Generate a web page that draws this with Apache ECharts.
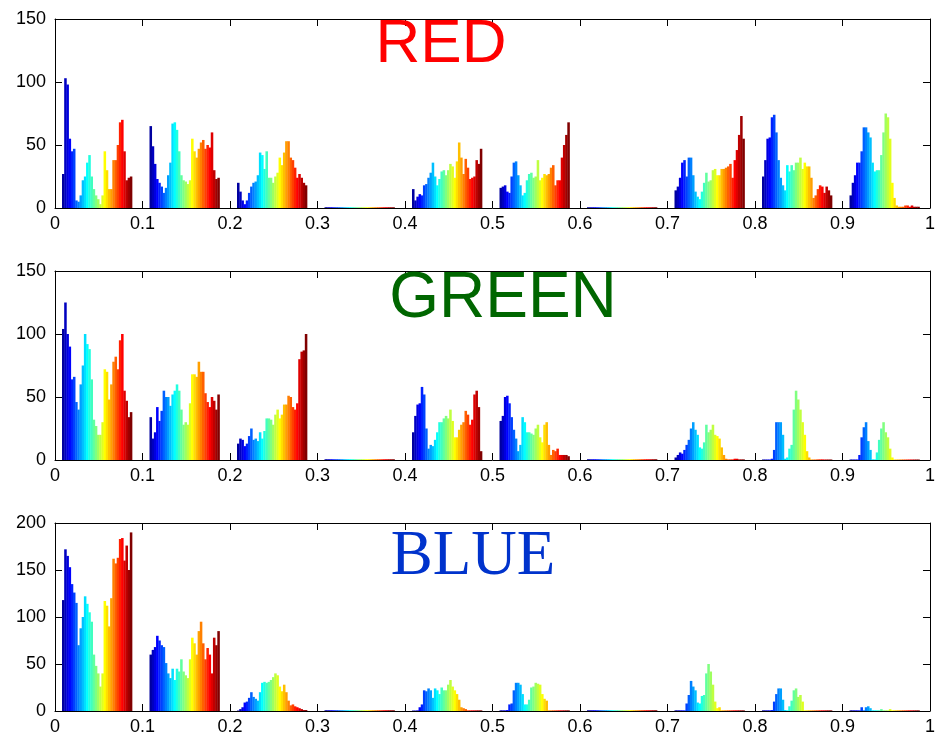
<!DOCTYPE html>
<html>
<head>
<meta charset="utf-8">
<script src="https://cdn.jsdelivr.net/npm/echarts@6/dist/echarts.min.js"></script>
<style>html,body{margin:0;padding:0;background:#fff}#c{width:938px;height:736px}</style>
</head>
<body>
<div id="c"></div>
<script>
// Histogram bin counts: 10 groups of 32 bins per channel (group g covers x ≈ g*0.1+0.008 .. g*0.1+0.088)
const redCounts = [
  [27,103,98,55,45,47,6,5,10,22,25,36,42,25,15,10,7,3,10,45,30,15,15,38,38,50,68,70,45,22,24,25],
  [65,49,35,23,20,17,12,16,26,36,67,68,62,45,26,22,21,19,22,55,45,40,47,52,54,47,50,48,60,30,23,24],
  [20,13,6,3,6,12,17,20,21,26,44,42,31,45,24,24,20,25,28,40,34,44,53,53,40,38,32,24,27,24,20,18],
  [0.6,0.6,0.6,0.6,0.6,0.6,0.6,0.6,0.6,0.6,0.6,0.6,0.6,0.6,0.6,0.6,0.6,0.6,0.6,0.6,0.6,0.6,0.6,0.6,0.6,0.6,0.6,0.6,0.6,0.6,0.6,0.6],
  [15,6,9,11,10,18,19,24,28,36,25,18,23,29,30,26,30,35,33,24,37,52,40,27,39,32,23,24,25,38,35,47],
  [16,17,18,13,12,25,36,37,26,18,10,12,22,27,28,24,25,38,22,24,27,26,27,32,34,18,22,22,40,50,58,68],
  [0.6,0.6,0.6,0.6,0.6,0.6,0.6,0.6,0.6,0.6,0.6,0.6,0.6,0.6,0.6,0.6,0.6,0.6,0.6,0.6,0.6,0.6,0.6,0.6,0.6,0.6,0.6,0.6,0.6,0.6,0.6,0.6],
  [14,17,24,36,38,25,40,40,26,13,9,7,13,20,28,21,22,30,31,26,26,31,31,32,33,35,24,38,46,58,73,55],
  [25,38,55,56,72,74,60,38,24,18,14,34,29,34,30,36,36,40,31,36,33,33,24,8,10,15,18,17,12,17,14,10],
  [10,20,26,36,36,45,64,64,60,56,36,29,30,30,42,60,75,72,55,20,8,2,1,1,1,2,2,1,2,1,1,1]
];
const greenCounts = [
  [104,125,100,90,64,66,46,40,60,75,100,92,88,64,32,27,20,20,30,72,70,48,60,78,82,72,95,100,55,47,34,38],
  [34,17,22,42,31,39,55,50,50,43,52,55,60,55,40,28,30,28,45,68,68,66,78,70,70,53,46,42,50,47,40,52],
  [13,17,16,11,13,19,25,16,17,15,22,17,23,33,33,32,28,36,40,33,36,44,44,51,50,42,40,45,80,86,87,100],
  [0.6,0.6,0.6,0.6,0.6,0.6,0.6,0.6,0.6,0.6,0.6,0.6,0.6,0.6,0.6,0.6,0.6,0.6,0.6,0.6,0.6,0.6,0.6,0.6,0.6,0.6,0.6,0.6,0.6,0.6,0.6,0.6],
  [22,35,44,45,58,52,25,9,12,11,16,22,30,30,33,35,33,40,31,18,18,24,28,30,39,36,28,32,52,55,42,7],
  [31,35,50,51,45,34,24,17,7,12,34,30,22,22,21,20,25,28,18,14,28,30,12,4,8,7,9,4,4,4,4,3],
  [0.6,0.6,0.6,0.6,0.6,0.6,0.6,0.6,0.6,0.6,0.6,0.6,0.6,0.6,0.6,0.6,0.6,0.6,0.6,0.6,0.6,0.6,0.6,0.6,0.6,0.6,0.6,0.6,0.6,0.6,0.6,0.6],
  [2,4,6,5,8,12,16,25,30,24,20,10,9,14,28,22,24,28,20,19,17,10,4,1,0.5,0.5,0.5,1,1,0.5,0.5,0.5],
  [0.4,0.4,0.4,0.4,1,8,30,30,30,20,1,2,9,12,40,55,48,40,30,20,7,2,0.4,0.4,0.4,0.5,0.5,0.5,0.4,0.4,0.4,0.4],
  [0.4,0.4,0.4,0.4,4,18,26,30,15,8,0.5,0.5,6,16,25,30,22,18,9,2,0.4,0.4,0.4,0.4,0.4,0.4,0.4,0.4,0.4,0.4,0.4,0.4]
];
const blueCounts = [
  [118,172,165,153,135,126,115,70,88,100,122,114,105,95,60,48,40,26,40,117,112,90,120,162,157,163,183,184,160,176,150,190],
  [60,65,68,80,75,70,68,51,40,35,45,33,45,42,55,42,38,35,55,78,72,60,85,95,72,55,67,60,40,78,70,85],
  [0.5,2,4,9,10,14,20,15,13,11,20,30,31,30,31,33,36,40,38,26,21,28,20,11,6,7,5,4,3,2,1,1],
  [0.8,0.8,0.8,0.8,0.8,0.8,0.8,0.8,0.8,0.8,0.8,0.8,0.8,0.8,0.8,0.8,0.8,0.8,0.8,0.8,0.8,0.8,0.8,0.8,0.8,0.8,0.8,0.8,0.8,0.8,0.8,0.8],
  [0.5,0.5,0.7,4,7,22,21,24,22,14,24,22,18,25,22,22,28,33,26,22,18,12,4,3,2,0.7,0.7,0.7,0.7,0.7,0.7,0.7],
  [0.7,0.7,0.7,1,7,8,22,30,30,28,18,7,7,12,25,26,30,29,28,18,13,11,0.7,0.7,0.7,0.7,0.7,0.7,0.7,0.7,0.7,0.7],
  [0.8,0.8,0.8,0.8,0.8,0.8,0.8,0.8,0.8,0.8,0.8,0.8,0.8,0.8,0.8,0.8,0.8,0.8,0.8,0.8,0.8,0.8,0.8,0.8,0.8,0.8,0.8,0.8,0.8,0.8,0.8,0.8],
  [0.7,0.7,0.7,0.7,0.7,8,17,32,26,22,9,8,16,17,40,50,42,28,10,3,4,0.7,0.7,0.7,0.7,0.7,0.7,0.7,0.7,0.7,0.7,0.7],
  [0.7,0.7,0.7,0.7,1,10,18,24,24,12,1,0.7,5,11,22,24,15,17,10,0.7,0.7,0.7,0.7,0.7,0.7,0.7,0.7,0.7,0.7,0.7,0.7,0.7],
  [0.7,0.7,0.7,0.7,0.7,4,0.7,4,5,3,0.7,0.7,0.7,0.7,2,0.7,0.7,0.7,2,0.7,0.7,0.7,0.7,0.7,0.7,0.7,0.7,0.7,0.7,0.7,0.7,0.7]
];
const xTicks = [0,0.1,0.2,0.3,0.4,0.5,0.6,0.7,0.8,0.9,1];
const yMaxes = [150, 150, 200];
const titles = ['RED', 'GREEN', 'BLUE'];

// MATLAB jet(32) colormap, one colour per bin within a group
const jet32 = ['#00009F','#0000BF','#0000DF','#0000FF','#0020FF','#0040FF','#0060FF','#0080FF',
  '#009FFF','#00BFFF','#00DFFF','#00FFFF','#20FFDF','#40FFBF','#60FF9F','#80FF80',
  '#9FFF60','#BFFF40','#DFFF20','#FFFF00','#FFDF00','#FFBF00','#FF9F00','#FF8000',
  '#FF6000','#FF4000','#FF2000','#FF0000','#DF0000','#BF0000','#9F0000','#800000'];

const BIN_W = 0.0025, GROUP_OFF = 0.008;
function buildData(groups) {
  const out = [];
  groups.forEach((vals, g) => vals.forEach((v, k) => {
    out.push([g * 0.1 + GROUP_OFF + (k + 0.5) * BIN_W, v, k]);
  }));
  return out;
}

function renderItem(params, api) {
  const x = api.value(0), y = api.value(1), ci = api.value(2);
  const p0 = api.coord([x - BIN_W / 2, y]);
  const p1 = api.coord([x + BIN_W / 2, 0]);
  return {
    type: 'rect',
    shape: { x: p0[0], y: p0[1], width: p1[0] - p0[0] + 0.35, height: p1[1] - p0[1] },
    style: { fill: jet32[ci] }
  };
}

const tops = [19, 271, 523];
const grids = tops.map(t => ({ left: 55, top: t, width: 880, height: 189 }));
const labelFont = { color: '#000', fontSize: 18, fontFamily: 'Liberation Sans, Arial, sans-serif' };
const xAxes = [], yAxes = [], series = [];
[redCounts, greenCounts, blueCounts].forEach((counts, i) => {
  xAxes.push({
    type: 'value', gridIndex: i, min: 0, max: 1, interval: 0.1, position: 'bottom',
    axisLine: { show: true, onZero: false, lineStyle: { color: '#000', width: 1 } },
    axisTick: { show: true, inside: true, length: 7, lineStyle: { color: '#000' } },
    axisLabel: Object.assign({ margin: 7 }, labelFont),
    splitLine: { show: false }
  });
  xAxes.push({
    type: 'value', gridIndex: i, min: 0, max: 1, interval: 0.1, position: 'top',
    axisLine: { show: true, onZero: false, lineStyle: { color: '#000', width: 1 } },
    axisTick: { show: true, inside: true, length: 7, lineStyle: { color: '#000' } },
    axisLabel: { show: false }, splitLine: { show: false }
  });
  yAxes.push({
    type: 'value', gridIndex: i, min: 0, max: yMaxes[i], interval: 50, position: 'left',
    axisLine: { show: true, onZero: false, lineStyle: { color: '#000', width: 1 } },
    axisTick: { show: true, inside: true, length: 7, lineStyle: { color: '#000' } },
    axisLabel: Object.assign({ margin: 9 }, labelFont),
    splitLine: { show: false }
  });
  yAxes.push({
    type: 'value', gridIndex: i, min: 0, max: yMaxes[i], interval: 50, position: 'right',
    axisLine: { show: true, onZero: false, lineStyle: { color: '#000', width: 1 } },
    axisTick: { show: true, inside: true, length: 7, lineStyle: { color: '#000' } },
    axisLabel: { show: false }, splitLine: { show: false }
  });
  series.push({
    type: 'custom', name: titles[i], xAxisIndex: i * 2, yAxisIndex: i * 2,
    renderItem: renderItem, data: buildData(counts), clip: true,
    encode: { x: 0, y: 1 }
  });
});

const chart = echarts.init(document.getElementById('c'), null, { renderer: 'canvas' });
chart.setOption({
  animation: false,
  backgroundColor: '#fff',
  grid: grids,
  xAxis: xAxes,
  yAxis: yAxes,
  series: series,
  graphic: [
    { type: 'text', left: null, x: 441, y: 45, z: 100,
      style: { text: titles[0], fill: '#ff0000', font: '62px "Liberation Sans", Arial, sans-serif', textAlign: 'center', textVerticalAlign: 'middle' } },
    { type: 'text', x: 503, y: 299, z: 100,
      style: { text: titles[1], fill: '#006600', font: '64px "Liberation Sans", Arial, sans-serif', textAlign: 'center', textVerticalAlign: 'middle' } },
    { type: 'text', x: 473, y: 557, z: 100,
      style: { text: titles[2], fill: '#0033cc', font: '63px "Liberation Serif", "Times New Roman", serif', textAlign: 'center', textVerticalAlign: 'middle' } }
  ]
});
</script>
</body>
</html>
